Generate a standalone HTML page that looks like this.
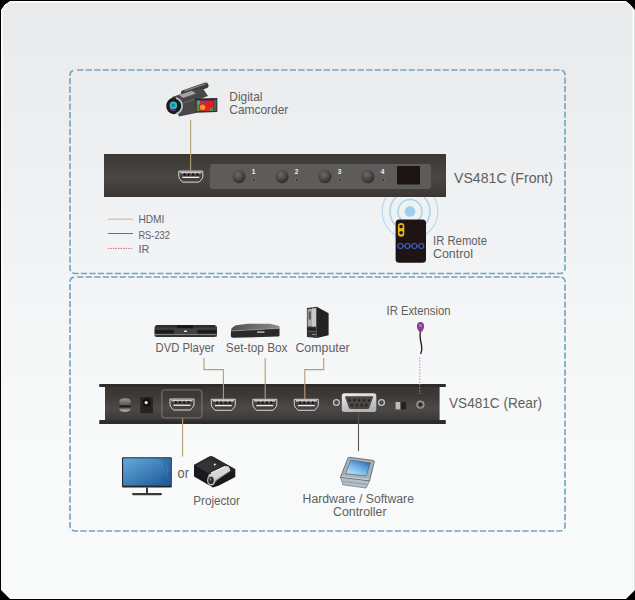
<!DOCTYPE html>
<html><head><meta charset="utf-8">
<style>
html,body{margin:0;padding:0;background:#000;width:635px;height:600px;overflow:hidden}
svg{display:block}
text{font-family:"Liberation Sans",sans-serif;fill:#606060}
</style></head><body>
<svg width="635" height="600" viewBox="0 0 635 600">
<defs>
<linearGradient id="bg" x1="0" y1="0" x2="0" y2="1">
<stop offset="0" stop-color="#e9eaeb"/>
<stop offset="0.25" stop-color="#eeeff0"/>
<stop offset="0.383" stop-color="#f1f2f3"/>
<stop offset="0.5" stop-color="#f4f5f6"/>
<stop offset="0.735" stop-color="#f8f9f9"/>
<stop offset="1" stop-color="#f9fafa"/>
</linearGradient>
<linearGradient id="barF" x1="0" y1="0" x2="0" y2="1">
<stop offset="0" stop-color="#3a3735"/>
<stop offset="0.3" stop-color="#423f3d"/>
<stop offset="0.5" stop-color="#4a4745"/>
<stop offset="0.75" stop-color="#43403e"/>
<stop offset="1" stop-color="#383533"/>
</linearGradient>
<linearGradient id="barR" x1="0" y1="0" x2="0" y2="1">
<stop offset="0" stop-color="#34312f"/>
<stop offset="0.3" stop-color="#3d3a38"/>
<stop offset="0.6" stop-color="#4c4947"/>
<stop offset="0.8" stop-color="#42403e"/>
<stop offset="1" stop-color="#33302e"/>
</linearGradient>
<radialGradient id="btn" cx="0.4" cy="0.35" r="0.7">
<stop offset="0" stop-color="#6e6a67"/>
<stop offset="1" stop-color="#2c2927"/>
</radialGradient>
<linearGradient id="scr" x1="0" y1="0" x2="1" y2="1">
<stop offset="0" stop-color="#64aade"/><stop offset="1" stop-color="#1c5694"/></linearGradient>
<linearGradient id="scr2" x1="0.1" y1="1" x2="0.9" y2="0">
<stop offset="0" stop-color="#cfe8f8"/><stop offset="0.45" stop-color="#7cbce8"/><stop offset="1" stop-color="#2262b8"/></linearGradient>
<linearGradient id="sw" x1="0" y1="0" x2="0" y2="1">
<stop offset="0" stop-color="#9a9896"/><stop offset="1" stop-color="#555250"/></linearGradient>
<linearGradient id="sw2" x1="0" y1="0" x2="0" y2="1">
<stop offset="0" stop-color="#4a4745"/><stop offset="1" stop-color="#cfcdcb"/></linearGradient>
<linearGradient id="db" x1="0" y1="0" x2="0.3" y2="1">
<stop offset="0" stop-color="#eeeeee"/><stop offset="1" stop-color="#b4b4b4"/></linearGradient>
<g id="hd">
<path d="M0.5,0.5 H24.5 V5.8 Q24.5,7.6 22.8,9.3 L20.8,11.5 H4.2 L2.2,9.3 Q0.5,7.6 0.5,5.8 Z" fill="#454240" stroke="#dadada" stroke-width="1"/>
<rect x="2" y="1.2" width="21" height="1.6" fill="#cfcfcf"/>
<rect x="5.5" y="2.6" width="1.6" height="2.6" fill="#151515"/>
<rect x="9.6" y="2.6" width="1.6" height="2.6" fill="#151515"/>
<rect x="13.9" y="2.6" width="1.6" height="2.6" fill="#151515"/>
<rect x="18.2" y="2.6" width="1.6" height="2.6" fill="#151515"/>
<rect x="4" y="6.1" width="17" height="1.3" fill="#f2f2f2"/>
</g>
</defs>
<!-- panel -->
<polygon points="1,10 10,1 626,1 635,10 635,590 626,599 10,599 1,590" fill="url(#bg)"/>
<path d="M1.5,590 V11 Q1.5,9.5 3,8 L8,3 Q9.5,1.5 11,1.5 H624.5 Q626,1.5 627.5,3 L632,7.5 Q633.5,9 633.5,10.5 V590" fill="none" stroke="#fdfdfd" stroke-width="1"/>
<path d="M2.5,590 V12 Q2.5,2.5 12,2.5 H623.5 Q632.5,2.5 632.5,12 V590" fill="none" stroke="#f6f7f7" stroke-width="1"/>
<rect x="634" y="11" width="1" height="579" fill="#dcdfe0"/>
<!-- dashed boxes -->
<rect x="70" y="70" width="495" height="203.5" rx="5" fill="none" stroke="#72a2c1" stroke-width="1.6" stroke-dasharray="6.3 2.2" stroke-dashoffset="6.3"/>
<rect x="70" y="277" width="495" height="254" rx="5" fill="none" stroke="#72a2c1" stroke-width="1.6" stroke-dasharray="6.3 2.2" stroke-dashoffset="6.3"/>

<!-- ===== FRONT ===== -->
<g fill="none" stroke="#a6d4f0">
<circle cx="410" cy="211.4" r="27.8" stroke-width="1.2" opacity="0.8"/>
<circle cx="410" cy="211.4" r="20" stroke-width="1.5"/>
<circle cx="410" cy="211.4" r="12" stroke-width="1.5"/>
</g>
<circle cx="410" cy="211.4" r="5.3" fill="#9dd0ee"/>
<rect x="104" y="154" width="342" height="43" fill="url(#barF)"/>
<line x1="190.6" y1="120" x2="190.6" y2="170.5" stroke="#b59e74" stroke-width="1.1"/>
<rect x="210" y="164" width="221" height="25" rx="3" fill="#5e5c5a"/>
<use href="#hd" transform="translate(178.3,170.6)"/>
<!-- buttons -->
<g>
<circle cx="239" cy="176.6" r="6.6" fill="url(#btn)"/>
<circle cx="282" cy="176.6" r="6.6" fill="url(#btn)"/>
<circle cx="325" cy="176.6" r="6.6" fill="url(#btn)"/>
<circle cx="368" cy="176.6" r="6.6" fill="url(#btn)"/>
</g>
<g fill="#3a3836" stroke="#77746f" stroke-width="0.8">
<circle cx="254" cy="180" r="1.7"/>
<circle cx="297" cy="180" r="1.7"/>
<circle cx="340" cy="180" r="1.7"/>
<circle cx="383" cy="180" r="1.7"/>
</g>
<g style="font-size:6.5px;font-weight:bold">
<text x="251.8" y="173.6" style="fill:#f2f2f2">1</text>
<text x="294.8" y="173.6" style="fill:#f2f2f2">2</text>
<text x="337.8" y="173.6" style="fill:#f2f2f2">3</text>
<text x="380.8" y="173.6" style="fill:#f2f2f2">4</text>
</g>
<rect x="397" y="166" width="23" height="18.4" rx="1" fill="#1d1414"/>
<text x="454" y="182.8" style="font-size:15px" textLength="99" lengthAdjust="spacingAndGlyphs">VS481C (Front)</text>

<!-- camcorder -->
<g>
<path d="M184,93 L205.5,85.5" stroke="#3c3c3c" stroke-width="6" stroke-linecap="round"/>
<path d="M185,90.8 L205,84" stroke="#8a8a8a" stroke-width="1.3" stroke-linecap="round"/>
<path d="M172,97 L193,90 L203,88.5 L208,96 L197,100 L196,113 L179,116.5 Z" fill="#474747"/>
<path d="M179,95 L192,90.8 L196,93.5 L183,98 Z" fill="#a4a4a4"/>
<path d="M183,103 L194,99.5" stroke="#6a6a6a" stroke-width="1"/>
<ellipse cx="173.8" cy="106" rx="7.6" ry="8.2" fill="#1c1c1c"/>
<path d="M176,98.2 A7.2,7.9 0 0 1 176,113.8" fill="none" stroke="#c4c4c4" stroke-width="1.7"/>
<circle cx="173.4" cy="105.4" r="3.8" fill="#36b4c6"/>
<circle cx="173.2" cy="105.2" r="1.6" fill="#1d7a8c"/>
<path d="M169.8,108.6 Q172,111.2 175.5,110" stroke="#8e3aa0" stroke-width="1.1" fill="none"/>
<path d="M195.6,98.5 L217.3,98 L217.3,112 L196,112.8 Z" fill="#2a2a2a"/>
<rect x="196.8" y="100.6" width="16.8" height="10.6" fill="#d62a2a"/>
<rect x="196.8" y="100.6" width="2" height="10.6" fill="#2aa850"/>
<rect x="197" y="100.6" width="3" height="3.5" fill="#2fa0d4"/>
<circle cx="202.6" cy="107.3" r="2.6" fill="#f0a21e"/>
<circle cx="209" cy="104" r="3.6" fill="#e41c30"/>
<circle cx="204.6" cy="102" r="1.3" fill="#2a5ad0"/>
<rect x="210" y="108.5" width="3" height="2.5" fill="#3aa840"/>
<rect x="214" y="99.6" width="2.4" height="11.6" fill="#5a5a5a"/>
</g>
<text x="229.3" y="100.7" style="font-size:12.7px" textLength="33.2" lengthAdjust="spacingAndGlyphs">Digital</text>
<text x="229.3" y="113.7" style="font-size:12.7px" textLength="59" lengthAdjust="spacingAndGlyphs">Camcorder</text>

<!-- legend -->
<line x1="108" y1="219.2" x2="133" y2="219.2" stroke="#c9b486" stroke-width="1"/>
<line x1="108" y1="233.5" x2="133" y2="233.5" stroke="#6e6e6e" stroke-width="1"/>
<line x1="108" y1="248.4" x2="133" y2="248.4" stroke="#d86a90" stroke-width="1" stroke-dasharray="1.5 1"/>
<text x="138.4" y="222.6" style="font-size:10.8px" textLength="25.8" lengthAdjust="spacingAndGlyphs">HDMI</text>
<text x="138.4" y="238.6" style="font-size:11.2px" textLength="31.5" lengthAdjust="spacingAndGlyphs">RS-232</text>
<text x="138.4" y="252.6" style="font-size:10.8px">IR</text>

<!-- IR remote -->
<rect x="395.6" y="219.6" width="30.4" height="43.2" rx="3.5" fill="#1e1414"/>
<rect x="397.9" y="222.9" width="6.4" height="13.9" rx="3.2" fill="#eab41a"/>
<circle cx="401.1" cy="226.6" r="1.8" fill="#1e1414"/>
<circle cx="401.1" cy="232.8" r="1.8" fill="#1e1414"/>
<g fill="none" stroke="#3a66c4" stroke-width="1.1">
<line x1="402.5" y1="246" x2="419.3" y2="246"/>
<circle cx="400.4" cy="246" r="2.5" fill="#1e1414"/>
<circle cx="407.4" cy="246" r="2.5" fill="#1e1414"/>
<circle cx="414.4" cy="246" r="2.5" fill="#1e1414"/>
<circle cx="421.3" cy="246" r="2.5" fill="#1e1414"/>
</g>
<text x="433" y="245" style="font-size:12.5px" textLength="54" lengthAdjust="spacingAndGlyphs">IR Remote</text>
<text x="433" y="258" style="font-size:12.5px" textLength="40" lengthAdjust="spacingAndGlyphs">Control</text>

<!-- ===== REAR ===== -->
<text x="386.5" y="315" style="font-size:12.6px" textLength="64" lengthAdjust="spacingAndGlyphs">IR Extension</text>
<path d="M420.3,332 C419.5,337 420.5,341 421.5,345 C422.3,349 421.5,352 420.6,354" fill="none" stroke="#1e1a1a" stroke-width="1.3"/>
<path d="M420.5,322 C423.5,322 424.3,324.5 424,327 C423.6,329.5 422,332.3 420.5,332.3 C419,332.3 417.4,329.5 417,327 C416.7,324.5 417.5,322 420.5,322 Z" fill="#8c3c96"/>
<circle cx="420.5" cy="325.6" r="1.5" fill="#b47ac0"/>
<line x1="419.8" y1="357.5" x2="419.8" y2="394" stroke="#d884c0" stroke-width="1" stroke-dasharray="1.5 1.5"/>

<!-- DVD -->
<g>
<path d="M154.5,327 Q155,325 158,325 H213.5 Q216.5,325 217,327 V336.5 H154.5 Z" fill="#404040"/>
<rect x="156" y="325.2" width="59" height="2.3" fill="#2a2a2a"/>
<rect x="177" y="325.4" width="16" height="2.8" fill="#151515"/>
<rect x="154.8" y="329.8" width="19" height="3.8" fill="#1c1c1c"/>
<rect x="197.5" y="329.8" width="19.2" height="3.8" fill="#1c1c1c"/>
<rect x="184" y="330.5" width="3" height="1.5" fill="#ddd"/>
<rect x="155" y="334.2" width="61.5" height="1.1" fill="#8e8e8e"/>
<rect x="156" y="335.3" width="59.5" height="1.6" fill="#262626"/>
</g>
<!-- STB -->
<defs><linearGradient id="stbt" x1="0" y1="0" x2="1" y2="0"><stop offset="0" stop-color="#4e4e4e"/><stop offset="1" stop-color="#8c8c8c"/></linearGradient></defs>
<g>
<path d="M231,331 L279.5,328.3 L279.5,335.5 Q279.5,336.5 278,336.6 L233,337.8 Q231,337.8 230.8,336 Z" fill="#2a2a2a"/>
<path d="M236,325.2 L248,323.8 L270,323.8 L279.5,326 L279.5,328.3 L231,331 Q230.6,327.5 236,325.2 Z" fill="url(#stbt)"/>
<path d="M231,331 L279.5,328.3" stroke="#9a9a9a" stroke-width="0.6"/>
<rect x="257" y="331.4" width="7.5" height="1.4" fill="#c4c4c4"/>
</g>
<!-- PC -->
<g>
<path d="M316.8,306.8 L328.6,313.2 L328.6,335.2 L316.8,338 Z" fill="#232323"/>
<path d="M306.9,308 L316.8,306.8 L316.8,338 L306.9,337 Z" fill="#343434"/>
<path d="M307.6,309.2 L316,308.2 L316,326.5 L307.6,326.5 Z" fill="#ababab"/>
<rect x="312" y="308.4" width="4" height="18" fill="#c8c8c8"/>
<rect x="308.6" y="311.5" width="2.4" height="8" fill="#5c5c5c"/>
<rect x="307.6" y="328.5" width="8.4" height="1.3" fill="#1a1a1a"/>
<rect x="307.6" y="331" width="8.4" height="1" fill="#555"/>
<rect x="312" y="334" width="4" height="1" fill="#888"/>
</g>
<text x="155.6" y="351.8" style="font-size:12.8px" textLength="59" lengthAdjust="spacingAndGlyphs">DVD Player</text>
<text x="225.8" y="352" style="font-size:12.8px" textLength="61.7" lengthAdjust="spacingAndGlyphs">Set-top Box</text>
<text x="295.4" y="352" style="font-size:12.8px" textLength="54.3" lengthAdjust="spacingAndGlyphs">Computer</text>

<!-- rear bar -->
<path d="M99.5,384 H445.6 V387 H439.6 V420 H445.6 V424 H99.5 V420 H105 V387 H99.5 Z" fill="url(#barR)"/>
<rect x="99.5" y="384" width="346" height="3" fill="#2e2b29"/>
<rect x="99.5" y="420.5" width="346" height="3.5" fill="#2e2b29"/>
<!-- connection lines -->
<g fill="none" stroke="#b59e74" stroke-width="1.1">
<polyline points="204,358 204,369.6 223.4,369.6 223.4,398.8"/>
<polyline points="265.2,358 265.2,398.8"/>
<polyline points="323.7,358 323.7,369.6 304.8,369.6 304.8,398.8"/>
<line x1="182.6" y1="418" x2="182.6" y2="456.6"/>
</g>
<line x1="358.5" y1="412" x2="358.5" y2="451" stroke="#555" stroke-width="1.1"/>
<!-- switch -->
<path d="M119.4,405.4 V401.5 Q119.4,398.3 125,398.3 Q130.6,398.3 130.6,401.5 V405.4 Z" fill="url(#sw)"/>
<rect x="119.4" y="405.4" width="11.2" height="2.1" fill="#1c1b1a"/>
<path d="M119.4,407.5 H130.6 V409 Q130.6,411.8 125,411.8 Q119.4,411.8 119.4,409 Z" fill="url(#sw2)"/>
<!-- dc jack -->
<rect x="140.3" y="397.1" width="12.6" height="16.1" fill="#262423"/>
<circle cx="146.6" cy="402.5" r="4" fill="#121212"/>
<circle cx="146.2" cy="402.6" r="1.6" fill="#f4f4f4"/>
<!-- port1 frame -->
<rect x="161.9" y="389.9" width="40" height="28" rx="2.5" fill="none" stroke="#7e7c7a" stroke-width="1"/>
<use href="#hd" transform="translate(169.5,398.5)"/>
<use href="#hd" transform="translate(210.8,398.8)"/>
<use href="#hd" transform="translate(252.3,398.8)"/>
<use href="#hd" transform="translate(293.8,398.8)"/>
<!-- db9 -->
<g fill="#4a4a4a" stroke="#c4c4c4" stroke-width="1.3">
<circle cx="336.4" cy="402.5" r="2.9"/>
<circle cx="381.5" cy="402.5" r="2.9"/>
</g>
<rect x="341.8" y="393.3" width="34.5" height="18.6" rx="2.5" fill="url(#db)"/>
<path d="M345.8,396.3 H372.4 Q373.4,396.3 373,397.5 L369.2,408 Q368.8,409.1 367.6,409.1 H350.6 Q349.4,409.1 349,408 L345.2,397.5 Q344.8,396.3 345.8,396.3 Z" fill="#4a4442"/>
<g fill="#141414">
<circle cx="349.4" cy="400.3" r="1"/><circle cx="354.4" cy="400.3" r="1"/><circle cx="359.1" cy="400.3" r="1"/><circle cx="363.8" cy="400.3" r="1"/><circle cx="368.8" cy="400.3" r="1"/>
<circle cx="351.9" cy="405.3" r="1"/><circle cx="356.9" cy="405.3" r="1"/><circle cx="361.7" cy="405.3" r="1"/><circle cx="366.4" cy="405.3" r="1"/>
</g>
<!-- small switch -->
<rect x="395.6" y="402" width="5" height="7.4" fill="#bdbdbd"/>
<rect x="400.6" y="402" width="5.4" height="7.4" fill="#222"/>
<!-- ir jack -->
<circle cx="420.4" cy="404.6" r="3.8" fill="#6f6f6f" stroke="#b0b0b0" stroke-width="0.8"/>
<circle cx="420.4" cy="404.6" r="1.8" fill="#222"/>
<line x1="419.8" y1="384" x2="419.8" y2="394" stroke="#c870b8" stroke-width="1" stroke-dasharray="1.5 1.5"/>

<text x="449" y="408" style="font-size:14.5px" textLength="93" lengthAdjust="spacingAndGlyphs">VS481C (Rear)</text>

<!-- monitor -->
<rect x="122" y="457.2" width="49.8" height="30.4" rx="1" fill="#262626"/>
<rect x="123.1" y="458.3" width="47.6" height="27.3" fill="url(#scr)"/>
<path d="M158,458.3 Q172,468 160,485.6 L170.7,485.6 L170.7,458.3 Z" fill="#245e9e" opacity="0.45"/>
<path d="M160,458.3 Q171,466 166,478" fill="none" stroke="#8cc4ee" stroke-width="0.6" opacity="0.35"/>
<rect x="146" y="487.5" width="2" height="5.8" fill="#3a3a3a"/>
<rect x="132" y="493" width="30" height="2.2" rx="1.1" fill="#3a3a3a"/>
<text x="177.6" y="477.9" style="font-size:13.8px" textLength="11.3" lengthAdjust="spacingAndGlyphs">or</text>

<!-- projector -->
<g>
<path d="M194,465 L208.5,456.9 Q211,455.8 213.5,457 L235.3,469.3 L235.3,477 L219,485.5 L213,487.5 L194,476.5 Z" fill="#19191b"/>
<path d="M194,465 L208.5,456.9 Q211,455.8 213.5,457 L235.3,469.3 L219.5,478 Z" fill="#2a2a2d"/>
<path d="M196,466 L209,459 L221,466 L208,473 Z" fill="#333438"/>
<circle cx="214.8" cy="464.6" r="1" fill="#f4f4f4"/>
<path d="M208,475 L224.5,466.4 Q228.5,465.2 229.8,468.5 L230.2,471 L215,481.5 Z" fill="#d6d6d6"/>
<path d="M211,473 L225,466.6" stroke="#f6f6f6" stroke-width="1.3"/>
<path d="M214,481 L230,471" stroke="#8a8a8a" stroke-width="0.8"/>
<ellipse cx="211.3" cy="480.2" rx="4.2" ry="5.2" fill="#c8c8c8"/>
<ellipse cx="211" cy="480.4" rx="2.8" ry="3.6" fill="#2e2e30"/>
<ellipse cx="210.4" cy="479.4" rx="1" ry="1.3" fill="#777"/>
</g>
<text x="193.2" y="505" style="font-size:13px" textLength="46.8" lengthAdjust="spacingAndGlyphs">Projector</text>

<!-- controller -->
<g>
<path d="M340.5,477.2 L342.9,484.8 L366.1,488 L369.6,480.7 Z" fill="#b4bec6" stroke="#77828a" stroke-width="0.8" stroke-linejoin="round"/>
<path d="M343,481.5 L367.5,484.3" stroke="#8a959d" stroke-width="0.8"/>
<path d="M348,457.9 Q349,457.3 350,457.4 L373,460.4 Q374.6,460.8 374.2,462 L369.6,480.7 L340.5,477.2 Z" fill="#a7b2bb" stroke="#5e6870" stroke-width="0.9" stroke-linejoin="round"/>
<path d="M350.7,460.2 L370.4,463 L366.1,476 L345.6,473.6 Z" fill="url(#scr2)" stroke="#4a545c" stroke-width="0.6"/>
<path d="M341.5,476.5 L369,479.8" stroke="#d8e0e6" stroke-width="0.8"/>
</g>
<text x="302.6" y="502.6" style="font-size:12px" textLength="111.4" lengthAdjust="spacingAndGlyphs">Hardware / Software</text>
<text x="333" y="516.4" style="font-size:12px" textLength="53.6" lengthAdjust="spacingAndGlyphs">Controller</text>
</svg>
</body></html>
